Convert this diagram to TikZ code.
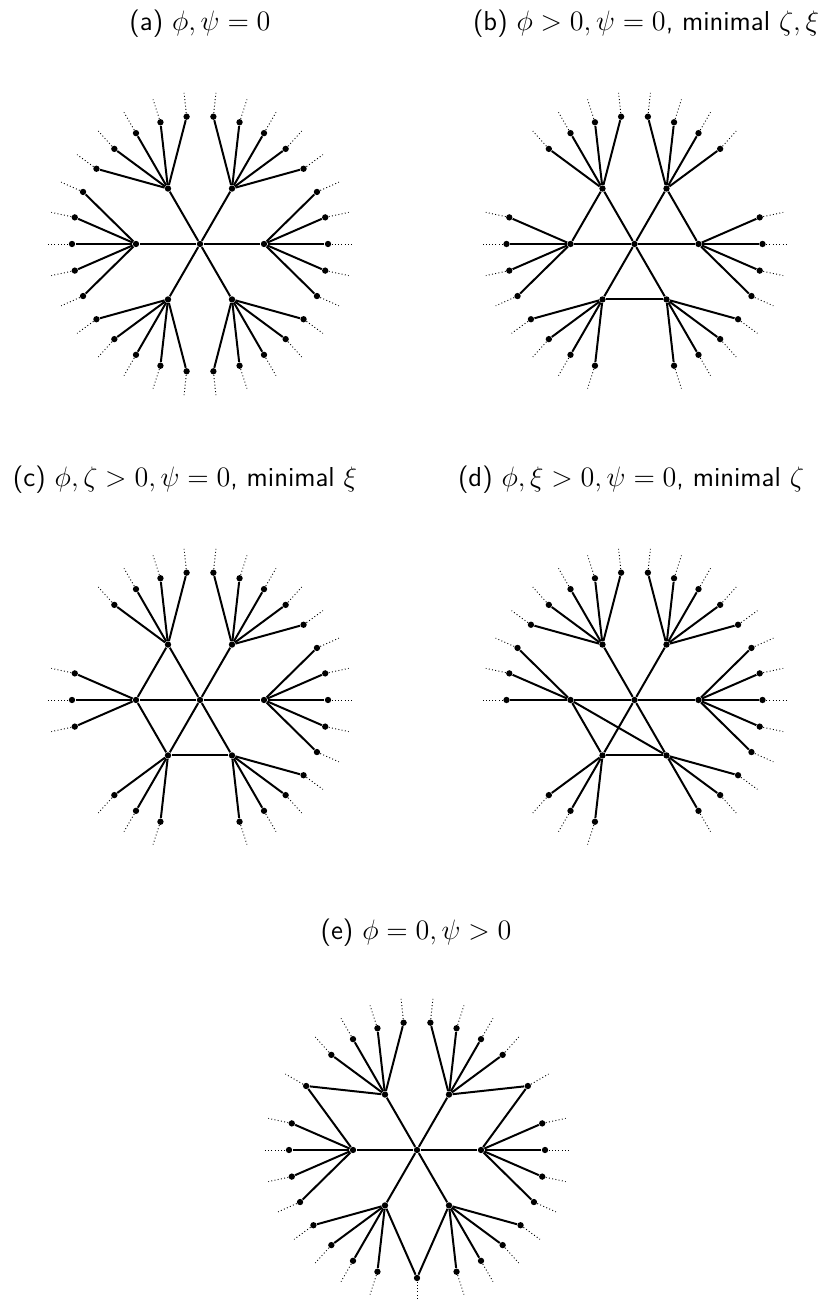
\documentclass[tikz,border=0pt]{standalone}
\usepackage{amsmath}
\begin{document}
\begin{tikzpicture}[x=0.015cm, y=0.015cm,
  every node/.style={font=\fontsize{11.7}{14}\selectfont\sffamily},
  vertex/.style={circle, fill, inner sep=0pt, minimum size=2.7pt},
  edge/.style={line width=0.85pt},
  stub/.style={densely dotted, line width=0.4pt}]
\useasboundingbox (0,0) rectangle (830,1299);
% captions
\node (ta) at (200,1275) {(a) $\phi, \psi = 0$};
\node (tb) at (646,1275) {(b) $\phi > 0, \psi = 0$, minimal $\zeta, \xi$};
\node (tc) at (185,819) {(c) $\phi, \zeta > 0, \psi = 0$, minimal $\xi$};
\node (td) at (631,819) {(d) $\phi, \xi > 0, \psi = 0$, minimal $\zeta$};
\node (te) at (416,366) {(e) $\phi = 0, \psi > 0$};
% (a) six full hubs
\begin{scope}[shift={(200,1055)}]
\node[vertex] (a-c) at (0,0) {};
\foreach \h/\ls in {0/{-24,-12,0,12,24}, 1/{36,48,60,72,84}, 2/{96,108,120,132,144},
                    3/{156,168,180,192,204}, 4/{216,228,240,252,264}, 5/{276,288,300,312,324}} {
  \node[vertex] (a-h\h) at (60*\h:64) {};
  \draw[edge] (a-c) -- (a-h\h);
  \foreach \k in \ls {
    \node[vertex] (a-l\k) at (\k:128) {};
    \coordinate (a-e\k) at (\k:152);
    \draw[edge] (a-h\h) -- (a-l\k);
    \draw[stub] (a-l\k) -- (a-e\k);
  }
}
\end{scope}
% (b) three hub-hub edges
\begin{scope}[shift={(634.5,1055)}]
\node[vertex] (b-c) at (0,0) {};
\foreach \h/\ls in {0/{-24,-12,0,12}, 1/{48,60,72,84}, 2/{96,108,120,132},
                    3/{168,180,192,204}, 4/{216,228,240,252}, 5/{288,300,312,324}} {
  \node[vertex] (b-h\h) at (60*\h:64) {};
  \draw[edge] (b-c) -- (b-h\h);
  \foreach \k in \ls {
    \node[vertex] (b-l\k) at (\k:128) {};
    \coordinate (b-e\k) at (\k:152);
    \draw[edge] (b-h\h) -- (b-l\k);
    \draw[stub] (b-l\k) -- (b-e\k);
  }
}
\draw[edge] (b-h0) -- (b-h1);
\draw[edge] (b-h2) -- (b-h3);
\draw[edge] (b-h4) -- (b-h5);
\end{scope}
% (c)
\begin{scope}[shift={(200,599)}]
\node[vertex] (c-c) at (0,0) {};
\foreach \h/\ls in {0/{-24,-12,0,12,24}, 1/{36,48,60,72,84}, 2/{96,108,120,132},
                    3/{168,180,192}, 4/{228,240,252}, 5/{288,300,312,324}} {
  \node[vertex] (c-h\h) at (60*\h:64) {};
  \draw[edge] (c-c) -- (c-h\h);
  \foreach \k in \ls {
    \node[vertex] (c-l\k) at (\k:128) {};
    \coordinate (c-e\k) at (\k:152);
    \draw[edge] (c-h\h) -- (c-l\k);
    \draw[stub] (c-l\k) -- (c-e\k);
  }
}
\draw[edge] (c-h2) -- (c-h3);
\draw[edge] (c-h3) -- (c-h4);
\draw[edge] (c-h4) -- (c-h5);
\end{scope}
% (d)
\begin{scope}[shift={(634.5,599)}]
\node[vertex] (d-c) at (0,0) {};
\foreach \h/\ls in {0/{-24,-12,0,12,24}, 1/{36,48,60,72,84}, 2/{96,108,120,132,144},
                    3/{156,168,180}, 4/{228,240,252}, 5/{300,312,324}} {
  \node[vertex] (d-h\h) at (60*\h:64) {};
  \draw[edge] (d-c) -- (d-h\h);
  \foreach \k in \ls {
    \node[vertex] (d-l\k) at (\k:128) {};
    \coordinate (d-e\k) at (\k:152);
    \draw[edge] (d-h\h) -- (d-l\k);
    \draw[stub] (d-l\k) -- (d-e\k);
  }
}
\draw[edge] (d-h3) -- (d-h4);
\draw[edge] (d-h4) -- (d-h5);
\draw[edge] (d-h3) -- (d-h5);
\end{scope}
% (e) shared leaves
\begin{scope}[shift={(417,149)}]
\node[vertex] (e-c) at (0,0) {};
\foreach \h/\ls in {0/{-24,-12,0,12}, 1/{48,60,72,84}, 2/{96,108,120,132},
                    3/{168,180,192,204}, 4/{216,228,240,252}, 5/{288,300,312,324}} {
  \node[vertex] (e-h\h) at (60*\h:64) {};
  \draw[edge] (e-c) -- (e-h\h);
  \foreach \k in \ls {
    \node[vertex] (e-l\k) at (\k:128) {};
    \coordinate (e-e\k) at (\k:152);
    \draw[edge] (e-h\h) -- (e-l\k);
    \draw[stub] (e-l\k) -- (e-e\k);
  }
}
\foreach \s/\p/\q in {30/0/1, 150/2/3, 270/4/5} {
  \node[vertex] (e-s\s) at (\s:128) {};
  \coordinate (e-t\s) at (\s:152);
  \draw[edge] (e-h\p) -- (e-s\s) -- (e-h\q);
  \draw[stub] (e-s\s) -- (e-t\s);
}
\end{scope}
\end{tikzpicture}
\end{document}
